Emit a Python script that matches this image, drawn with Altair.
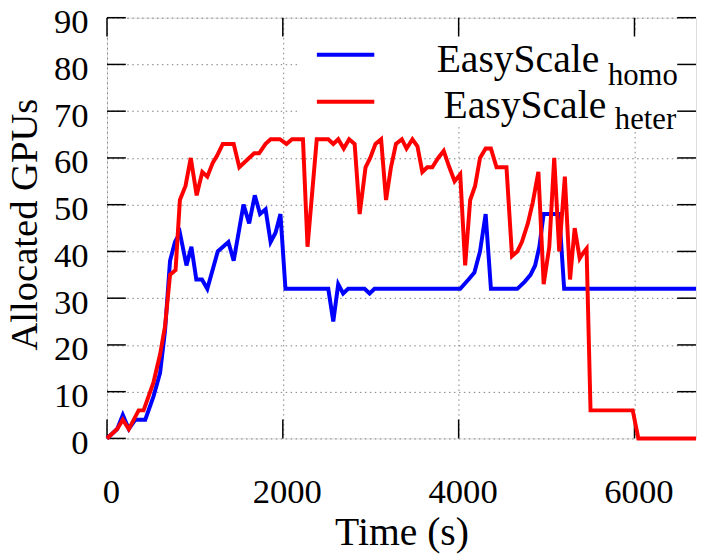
import altair as alt
import pandas as pd

# ---- data ----
homo_t = [0, 116, 180, 248, 323, 435, 529, 604, 660, 717, 773, 829, 904, 960, 1016, 1080, 1141,
          1260, 1381, 1441, 1553, 1617, 1681, 1741, 1804, 1861, 1917, 1973, 2030, 2517, 2574,
          2630, 2686, 2743, 2930, 2987, 3043, 4018, 4112, 4179, 4243, 4307, 4367, 4667, 4750,
          4817, 4870, 4918, 4967, 5144, 5200, 6700]
homo_v = [0, 2, 5, 2, 4, 4, 9, 14, 23, 38, 42, 44, 37, 41, 34, 34, 32,
          40, 42, 38, 50, 46, 52, 48, 49, 42, 44, 48, 32, 32, 25,
          33, 31, 32, 32, 31, 32, 32, 34, 35.5, 40, 48, 32, 32, 33.5,
          35, 37, 41, 48, 48, 32, 32]

heter_t = [0, 116, 180, 248, 360, 416, 529, 604, 660, 717, 780, 829, 893, 953, 1020, 1084, 1141,
           1204, 1253, 1317, 1441, 1505, 1674, 1730, 1804, 1861, 1966, 2041, 2105, 2229, 2281,
           2386, 2517, 2574, 2630, 2693, 2754, 2817, 2874, 2941, 2994, 3054, 3118, 3174, 3230,
           3287, 3354, 3407, 3474, 3531, 3587, 3643, 3700, 3767, 3830, 3894, 3954, 4018, 4074,
           4131, 4187, 4243, 4307, 4367, 4431, 4544, 4607, 4667, 4719, 4787, 4843, 4907, 4967,
           5031, 5087, 5144, 5208, 5267, 5320, 5377, 5417, 5455, 5500, 5980, 6044, 6700]
heter_v = [0, 2, 4, 2, 6, 6, 12, 18, 24, 35, 36, 51, 54, 60, 52, 57, 56,
           59, 60.5, 63, 63, 58, 61, 61, 63, 64, 64, 63, 64, 64, 41,
           64, 64, 63, 64, 62, 64, 63, 48, 58, 60, 63, 64, 51, 58,
           63, 64, 62, 64, 62.5, 57, 58, 58, 60, 61.5, 58, 55, 56.5, 37,
           51, 54, 60, 62, 62, 58, 58, 39, 40, 42, 46, 50.5, 57, 33,
           41, 60, 40, 56, 34, 45, 38.5, 39.7, 40.6, 6, 6, 0, 0]

x_ticks = [0, 2000, 4000, 6000]
y_ticks = [0, 10, 20, 30, 40, 50, 60, 70, 80, 90]
legend_main = ["EasyScale", "EasyScale"]
legend_sub = ["homo", "heter"]
legend_colors = ["#0000ff", "#ff0000"]

# ---- layout / style ----
W, H = 595, 425
FONT = "'Liberation Serif', 'Times New Roman', serif"
TICK = 19

homo = pd.DataFrame({"t": homo_t, "v": homo_v})
heter = pd.DataFrame({"t": heter_t, "v": heter_v})

xs = alt.Scale(domain=[0, 6700], nice=False, zero=False)
ys = alt.Scale(domain=[0, 90], nice=False)

xaxis = alt.Axis(values=x_ticks, format="d", title="Time (s)", ticks=False, tickSize=0, domain=False,
                 grid=True, gridDash=[1.5, 3.5], gridColor="#808080", gridWidth=1,
                 labelFont=FONT, labelFontSize=35, labelColor="black", labelPadding=37,
                 labelBaseline="top", labelOffset=4, labelFlush=False, labelOverlap=False,
                 titleFont=FONT, titleFontSize=40, titleFontWeight="normal", titleColor="black",
                 titleX=W / 2, titleY=107, titleBaseline="alphabetic", titleAlign="center")
yaxis = alt.Axis(values=y_ticks, format="d", title="Allocated GPUs", ticks=False, tickSize=0, domain=False,
                 grid=True, gridDash=[1.5, 3.5], gridColor="#808080", gridWidth=1,
                 labelFont=FONT, labelFontSize=35, labelColor="black", labelPadding=19,
                 labelBaseline="middle", labelOffset=4, labelFlush=False, labelOverlap=False,
                 titleFont=FONT, titleFontSize=39, titleFontWeight="normal", titleColor="black",
                 titleX=-71, titleY=H / 2 - 4, titleBaseline="alphabetic", titleAlign="center",
                 titleAngle=270)


def X():
    return alt.X("t:Q", scale=xs, axis=xaxis)


def Y():
    return alt.Y("v:Q", scale=ys, axis=yaxis)


# white box behind the key (hides grid)
keybox = alt.Chart(pd.DataFrame({"a": [0]})).mark_rect(color="white").encode(
    x=alt.value(192), x2=alt.value(590), y=alt.value(15), y2=alt.value(110))

ydf = pd.DataFrame({"v": y_ticks})
xdf = pd.DataFrame({"t": x_ticks})
tick_style = dict(color="black", strokeWidth=1.5)
lt = alt.Chart(ydf).mark_rule(**tick_style).encode(y=Y(), x=alt.value(0), x2=alt.value(TICK))
rt = alt.Chart(ydf).mark_rule(**tick_style).encode(y=Y(), x=alt.value(W - TICK), x2=alt.value(W))
bt = alt.Chart(xdf).mark_rule(**tick_style).encode(x=X(), y=alt.value(H - TICK), y2=alt.value(H))
tt = alt.Chart(xdf).mark_rule(**tick_style).encode(x=X(), y=alt.value(0), y2=alt.value(TICK))

line_homo = alt.Chart(homo).mark_line(color=legend_colors[0], strokeWidth=4).encode(x=X(), y=Y())
line_heter = alt.Chart(heter).mark_line(color=legend_colors[1], strokeWidth=4).encode(x=X(), y=Y())

# key
key_layers = []
key_rows = [(37.5, 55, 68, 333), (85, 101, 112, 340)]
for i, (ly, mainy, suby, mx) in enumerate(key_rows):
    d = pd.DataFrame({"main": [legend_main[i]], "sub": [legend_sub[i]]})
    key_layers.append(alt.Chart(d).mark_rule(color=legend_colors[i], strokeWidth=4).encode(
        x=alt.value(212), x2=alt.value(270), y=alt.value(ly)))
    key_layers.append(alt.Chart(d).mark_text(align="left", baseline="alphabetic", font=FONT,
                                              fontSize=40, color="black").encode(
        text="main:N", x=alt.value(mx), y=alt.value(mainy)))
    key_layers.append(alt.Chart(d).mark_text(align="left", baseline="alphabetic", font=FONT,
                                              fontSize=31, color="black").encode(
        text="sub:N", x=alt.value(mx + 173), y=alt.value(suby)))

chart = alt.layer(keybox, lt, rt, bt, tt, line_homo, line_heter, *key_layers).properties(
    width=W, height=H,
    autosize=alt.AutoSizeParams(type="none"),
    padding={"left": 100, "top": 7, "right": 2, "bottom": 118},
).configure_view(stroke="black", strokeWidth=1.5).configure(font=FONT)

chart.save("out.html", embed_options={"renderer": "svg", "actions": False})
